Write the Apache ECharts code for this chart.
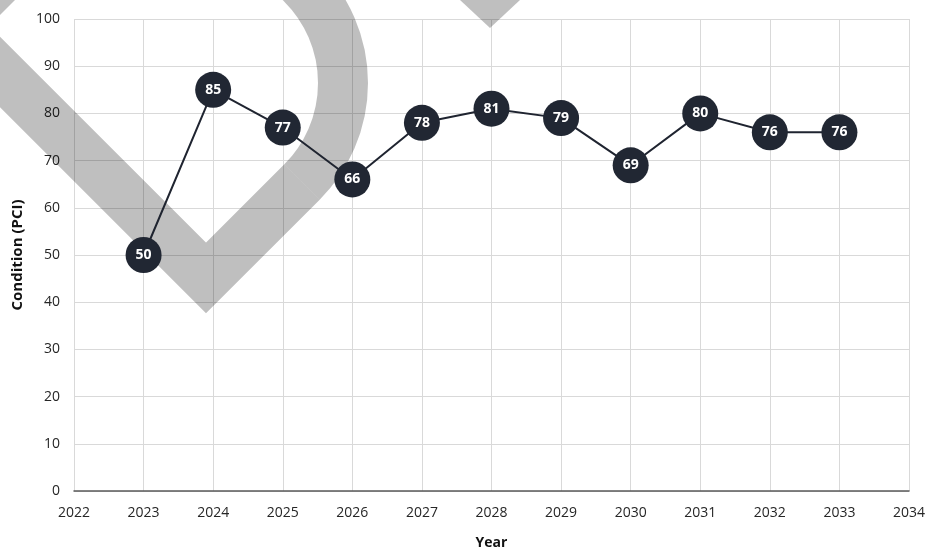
<!DOCTYPE html>
<html>
<head>
<meta charset="utf-8">
<script src="https://cdn.jsdelivr.net/npm/echarts@6/dist/echarts.min.js"></script>
<style>
  html, body { margin: 0; padding: 0; background: #fff; }
  #chart { width: 927px; height: 552px; }
</style>
</head>
<body>
<div id="chart"></div>
<script>
// condition by year
var years = [2023, 2024, 2025, 2026, 2027, 2028, 2029, 2030, 2031, 2032, 2033];
var pci = [50, 85, 77, 66, 78, 81, 79, 69, 80, 76, 76];
var xRange = [2022, 2034];
var yRange = [0, 100];

var FONT = '"Open Sans", "DejaVu Sans", sans-serif';
var SHADE = 'rgba(0,0,0,0.25)';
var pts = years.map(function (y, i) { return [y, pci[i]]; });

var chart = echarts.init(document.getElementById('chart'));
var option = {
    animation: false,
    backgroundColor: '#fff',
    textStyle: { fontFamily: FONT },
    grid: { left: 74, right: 18, top: 19, bottom: 61, containLabel: false, outerBoundsMode: 'none' },
    // grey watermark behind the series
    graphic: [{
        type: 'polyline',
        z: 1,
        silent: true,
        shape: { points: [[-70, 2], [206, 278], [302, 182]] },
        style: { fill: null, stroke: SHADE, lineWidth: 50, lineCap: 'butt', lineJoin: 'miter' }
    }, {
        type: 'arc',
        z: 1,
        silent: true,
        shape: { cx: 203, cy: 83, r: 140, startAngle: Math.PI / 4, endAngle: -Math.PI / 2, clockwise: false },
        style: { fill: null, stroke: SHADE, lineWidth: 50, lineCap: 'butt' }
    }, {
        type: 'polygon',
        z: 1,
        silent: true,
        shape: { points: [[0, 0], [15, 0], [0, 15]] },
        style: { fill: SHADE }
    }, {
        type: 'polygon',
        z: 1,
        silent: true,
        shape: { points: [[460, 0], [520, 0], [490, 28]] },
        style: { fill: SHADE }
    }],
    xAxis: {
        type: 'value',
        min: xRange[0],
        max: xRange[1],
        interval: 1,
        name: 'Year',
        nameLocation: 'middle',
        nameGap: 45,
        nameTextStyle: { fontFamily: FONT, fontWeight: 'bold', fontSize: 14, color: '#111' },
        axisLine: { show: true, lineStyle: { color: '#595959', width: 1.5 } },
        axisTick: { show: false },
        axisLabel: {
            margin: 15, fontSize: 14, color: '#262626', fontFamily: FONT,
            formatter: function (v) { return String(v); }
        },
        splitLine: { show: true, lineStyle: { color: '#d9d9d9', width: 1 } }
    },
    yAxis: {
        type: 'value',
        min: yRange[0],
        max: yRange[1],
        interval: 10,
        name: 'Condition (PCI)',
        nameLocation: 'middle',
        nameGap: 42,
        nameTextStyle: { fontFamily: FONT, fontWeight: 'bold', fontSize: 15, color: '#111' },
        axisLine: { show: false },
        axisTick: { show: false },
        axisLabel: { margin: 14, fontSize: 14, color: '#262626', fontFamily: FONT },
        splitLine: { show: true, lineStyle: { color: '#d9d9d9', width: 1 } }
    },
    series: [{
        type: 'line',
        z: 3,
        data: pts,
        symbol: 'circle',
        symbolSize: 36,
        lineStyle: { color: '#1f2430', width: 2 },
        itemStyle: { color: '#212733', borderColor: '#212733', borderWidth: 0 },
        label: {
            show: true,
            position: 'inside',
            color: '#fff',
            fontWeight: 'bold',
            fontSize: 14,
            fontFamily: FONT,
            formatter: function (p) { return p.value[1]; }
        }
    }]
};
chart.setOption(option);
</script>
</body>
</html>
